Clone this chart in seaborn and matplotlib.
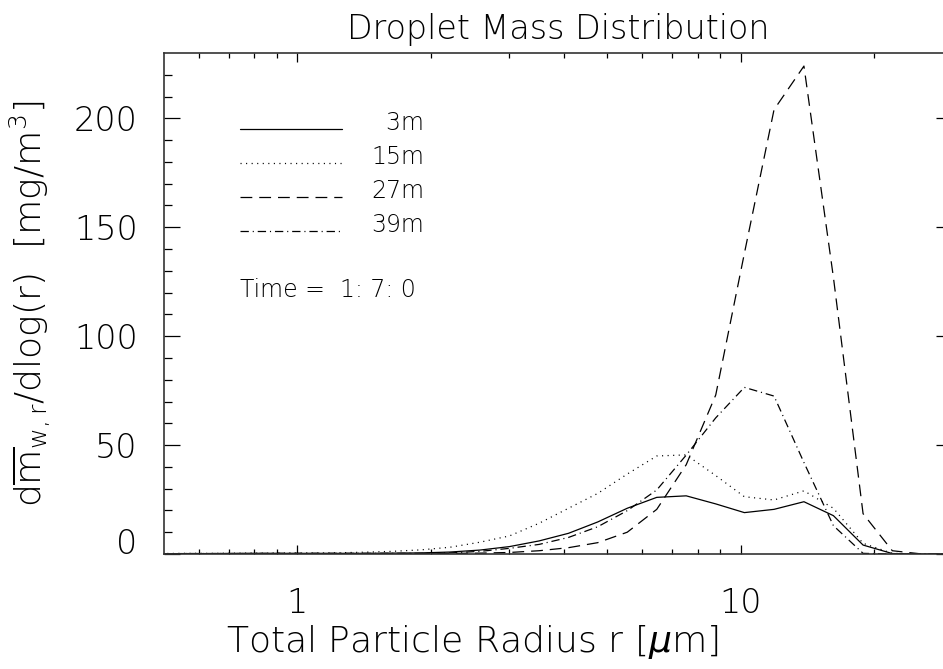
import numpy as np
import pandas as pd
import matplotlib
matplotlib.use("Agg")
import matplotlib.pyplot as plt
from matplotlib.lines import Line2D
from matplotlib.legend_handler import HandlerLine2D
from matplotlib.ticker import FixedLocator, NullFormatter
import seaborn as sns

# ---------------- data ----------------
radius = [0.48, 0.56, 0.65, 0.76, 0.88, 1.03, 1.20, 1.40, 1.63, 1.90,
          2.21, 2.58, 3.01, 3.51, 4.09, 4.76, 5.55, 6.47, 7.54, 8.79,
          10.2, 11.9, 13.9, 16.2, 18.9, 22.0, 25.7, 29.9]

mass_3m = [0.1, 0.2, 0.2, 0.3, 0.3, 0.3, 0.3, 0.3, 0.4, 0.5,
           0.9, 1.8, 3.4, 6.0, 9.5, 14.7, 21.0, 26.0, 26.7, 23.0,
           19.0, 20.5, 24.0, 17.6, 4.1, 0.2, 0.0, 0.0]
mass_15m = [0.2, 0.3, 0.3, 0.4, 0.4, 0.4, 0.5, 0.8, 1.2, 1.9,
            3.1, 5.4, 8.3, 14.1, 21.0, 27.8, 36.7, 45.0, 45.5, 36.0,
            26.3, 24.8, 29.0, 21.0, 4.9, 0.3, 0.0, 0.0]
mass_27m = [0.1, 0.1, 0.2, 0.2, 0.2, 0.2, 0.2, 0.2, 0.2, 0.2,
            0.3, 0.4, 0.7, 1.5, 2.9, 5.2, 10.0, 20.5, 41.0, 73.0,
            138.0, 204.0, 224.0, 127.0, 18.5, 1.5, 0.0, 0.0]
mass_39m = [0.1, 0.2, 0.2, 0.2, 0.3, 0.3, 0.3, 0.3, 0.3, 0.3,
            0.5, 1.2, 2.6, 4.4, 7.6, 12.5, 19.9, 29.4, 45.4, 62.5,
            76.5, 72.5, 42.0, 13.0, 0.3, 0.0, 0.0, 0.0]

heights = ["3m", "15m", "27m", "39m"]
legend_labels = ["  3m", "15m", "27m", "39m"]
title = "Droplet Mass Distribution"
xlabel = r"Total Particle Radius r [$\mu$m]"
ylabel = r"d$\overline{\mathrm{m}}_{\mathrm{w,r}}$/dlog(r)  [mg/m$^{3}$]"
time_text = "Time =  1: 7: 0"
xtick_vals = [1, 10]
xtick_labels = ["1", "10"]
xminor_vals = [0.6, 0.7, 0.8, 0.9, 2, 3, 4, 5, 6, 7, 8, 9, 20]
ytick_vals = [0, 50, 100, 150, 200]
yminor_vals = [10, 20, 30, 40, 60, 70, 80, 90, 110, 120, 130, 140,
               160, 170, 180, 190, 210, 220]

# ---------------- style ----------------
sns.set_style("white")
plt.rcParams["font.family"] = ["DejaVu Sans"]
plt.rcParams["font.weight"] = "light"
plt.rcParams["axes.titleweight"] = "light"
plt.rcParams["axes.labelweight"] = "light"
plt.rcParams["text.color"] = "black"
plt.rcParams["axes.labelcolor"] = "black"
plt.rcParams["xtick.color"] = "black"
plt.rcParams["ytick.color"] = "black"
plt.rcParams["mathtext.fontset"] = "custom"
plt.rcParams["mathtext.rm"] = "DejaVu Sans:light"
plt.rcParams["mathtext.it"] = "DejaVu Sans:italic:light"
plt.rcParams["lines.scale_dashes"] = False

dash_map = {
    "3m": "",
    "15m": (0.8, 3.2),
    "27m": (8.5, 5.0),
    "39m": (6.0, 2.8, 0.8, 2.8),
}

df = pd.concat([
    pd.DataFrame({"radius": radius, "mass": vals, "height": h})
    for h, vals in zip(heights, [mass_3m, mass_15m, mass_27m, mass_39m])
], ignore_index=True)

fig = plt.figure(figsize=(9.43, 6.69), dpi=100)
ax = fig.add_axes([164 / 943, 1 - 554 / 669, (952 - 164) / 943, (554 - 53) / 669])

sns.lineplot(data=df, x="radius", y="mass", style="height", style_order=heights,
             dashes=dash_map, color="black", linewidth=0.9, estimator=None,
             legend=False, ax=ax)

ax.set_xscale("log")
ax.set_xlim(0.5, 30)
ax.set_ylim(0, 230)

ax.xaxis.set_major_locator(FixedLocator(xtick_vals))
ax.set_xticklabels(xtick_labels)
ax.xaxis.set_minor_locator(FixedLocator(xminor_vals))
ax.xaxis.set_minor_formatter(NullFormatter())
ax.yaxis.set_major_locator(FixedLocator(ytick_vals))
ax.yaxis.set_minor_locator(FixedLocator(yminor_vals))

ax.tick_params(which="both", direction="in", top=True, right=True,
               left=True, bottom=True, colors="black", width=0.9)
ax.tick_params(axis="x", which="major", length=6.8, pad=24, labelsize=24)
ax.tick_params(axis="x", which="minor", length=3.4)
ax.tick_params(axis="y", which="major", length=11.5, pad=19, labelsize=24)
ax.tick_params(axis="y", which="minor", length=5.8)

for s in ax.spines.values():
    s.set_linewidth(1.2)
    s.set_color("#333333")

ax.set_title(title, fontsize=24, pad=10, fontweight="light")
ax.set_xlabel(xlabel, fontsize=26, fontweight="light")
ax.xaxis.set_label_coords((472 - 164) / 788, (554 - 623) / 501)
ax.set_ylabel(ylabel, fontsize=26, labelpad=15, fontweight="light")

yt = ax.yaxis.get_major_ticks()
for t in yt:
    t.label1.set_fontweight("light")
# IDL lifts the first y label above the x axis
yt[0].label1.set_verticalalignment("baseline")
for t in ax.xaxis.get_major_ticks():
    t.label1.set_fontweight("light")


class LowLine(HandlerLine2D):
    """Legend sample drawn at the text baseline, as in IDL."""
    def create_artists(self, legend, orig_handle, xdescent, ydescent,
                       width, height, fontsize, trans):
        arts = super().create_artists(legend, orig_handle, xdescent, ydescent,
                                      width, height, fontsize, trans)
        for a in arts:
            a.set_ydata(np.asarray(a.get_ydata(), dtype=float) - 0.3 * fontsize)
        return arts


handles = [Line2D([], [], color="black", linewidth=0.9,
                  linestyle="-" if dash_map[h] == "" else (0, dash_map[h]))
           for h in heights]
ax.legend(handles, legend_labels, loc="upper left",
          bbox_to_anchor=(240 / 943, 1 - 111 / 669), bbox_transform=fig.transFigure,
          frameon=False, fontsize=17, handlelength=4.3, handletextpad=1.25,
          labelspacing=0.42, borderpad=0, borderaxespad=0, labelcolor="black",
          handler_map={Line2D: LowLine()})

fig.text(240 / 943, 1 - 290 / 669, time_text, fontsize=17, va="center", ha="left",
         fontweight="light")

fig.savefig("out.png", dpi=100)
